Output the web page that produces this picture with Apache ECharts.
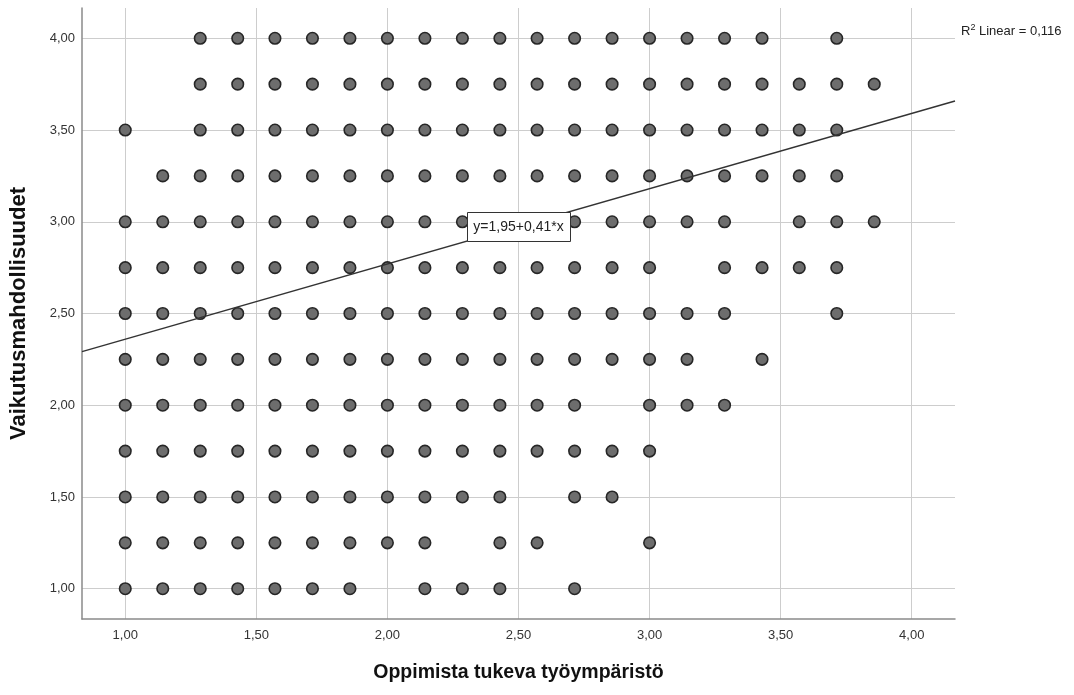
<!DOCTYPE html>
<html>
<head>
<meta charset="utf-8">
<script src="https://cdn.jsdelivr.net/npm/echarts@6/dist/echarts.min.js"></script>
<style>
  html, body { margin: 0; padding: 0; background: #ffffff; }
  #chart { width: 1074px; height: 695px; }
</style>
</head>
<body>
<div id="chart"></div>
<script>
// ---- Data ----
const xLevels = [1.000, 1.143, 1.286, 1.429, 1.571, 1.714, 1.857, 2.000, 2.143, 2.286, 2.429,
                 2.571, 2.714, 2.857, 3.000, 3.143, 3.286, 3.429, 3.571, 3.714, 3.857];
const yLevels = [4.00, 3.75, 3.50, 3.25, 3.00, 2.75, 2.50, 2.25, 2.00, 1.75, 1.50, 1.25, 1.00];
// indices into xLevels of the points present on each yLevels row
const rowMembers = [
  [2,3,4,5,6,7,8,9,10,11,12,13,14,15,16,17,19],
  [2,3,4,5,6,7,8,9,10,11,12,13,14,15,16,17,18,19,20],
  [0,2,3,4,5,6,7,8,9,10,11,12,13,14,15,16,17,18,19],
  [1,2,3,4,5,6,7,8,9,10,11,12,13,14,15,16,17,18,19],
  [0,1,2,3,4,5,6,7,8,9,10,11,12,13,14,15,16,18,19,20],
  [0,1,2,3,4,5,6,7,8,9,10,11,12,13,14,16,17,18,19],
  [0,1,2,3,4,5,6,7,8,9,10,11,12,13,14,15,16,19],
  [0,1,2,3,4,5,6,7,8,9,10,11,12,13,14,15,17],
  [0,1,2,3,4,5,6,7,8,9,10,11,12,14,15,16],
  [0,1,2,3,4,5,6,7,8,9,10,11,12,13,14],
  [0,1,2,3,4,5,6,7,8,9,10,12,13],
  [0,1,2,3,4,5,6,7,8,10,11,14],
  [0,1,2,3,4,5,6,8,9,10,12]
];
const xTicks = [1.00, 1.50, 2.00, 2.50, 3.00, 3.50, 4.00];
const yTicks = [1.00, 1.50, 2.00, 2.50, 3.00, 3.50, 4.00];
const regIntercept = 1.95;
const regSlope = 0.41;
const rSquared = 0.116;
const xTitle = 'Oppimista tukeva työympäristö';
const yTitle = 'Vaikutusmahdollisuudet';

// ---- Build ----
const AX_MIN = 0.835, AX_MAX = 4.165;
const FONT = 'Arial, "Liberation Sans", sans-serif';
const fmt = v => Number(v).toFixed(2).replace('.', ',');

const points = [];
rowMembers.forEach((idxs, r) => idxs.forEach(i => points.push([xLevels[i], yLevels[r]])));

const regLine = [AX_MIN, AX_MAX].map(x => [x, regIntercept + regSlope * x]);
const labelX = 2.5;
const eqText = 'y=' + fmt(regIntercept) + '+' + fmt(regSlope) + '*x';

const chart = echarts.init(document.getElementById('chart'), null, { renderer: 'canvas' });
chart.setOption({
  animation: false,
  backgroundColor: '#ffffff',
  textStyle: { fontFamily: FONT },
  grid: { left: 82, right: 119, top: 8, bottom: 76, containLabel: false },
  title: {
    left: 956, top: 18,
    text: '{r|R}{s|2}{r| Linear = ' + String(rSquared).replace('.', ',') + '}',
    textStyle: {
      fontWeight: 'normal',
      rich: {
        r: { fontSize: 13, color: '#222', fontWeight: 'normal', fontFamily: FONT, lineHeight: 16 },
        s: { fontSize: 9, color: '#222', fontWeight: 'normal', fontFamily: FONT, lineHeight: 16, verticalAlign: 'top', padding: [0, 0, 6, 0] }
      }
    }
  },
  xAxis: {
    type: 'value', min: AX_MIN, max: AX_MAX,
    name: xTitle, nameLocation: 'middle', nameGap: 44,
    nameTextStyle: { fontSize: 19.5, fontWeight: 'bold', color: '#111', fontFamily: FONT },
    axisLine: { show: true, onZero: false, lineStyle: { color: '#8a8a8a', width: 1.5 } },
    axisTick: { show: false, customValues: xTicks },
    axisLabel: { customValues: xTicks, formatter: fmt, fontSize: 13, color: '#333', margin: 10 },
    splitLine: { show: true, lineStyle: { color: '#cdcdcd', width: 1 } }
  },
  yAxis: {
    type: 'value', min: AX_MIN, max: AX_MAX,
    name: yTitle, nameLocation: 'middle', nameGap: 52, nameRotate: 90,
    nameTextStyle: { fontSize: 22, fontWeight: 'bold', color: '#111', fontFamily: FONT },
    axisLine: { show: true, onZero: false, lineStyle: { color: '#8a8a8a', width: 1.5 } },
    axisTick: { show: false, customValues: yTicks },
    axisLabel: { customValues: yTicks, formatter: fmt, fontSize: 13, color: '#333', margin: 7 },
    splitLine: { show: true, lineStyle: { color: '#cdcdcd', width: 1 } }
  },
  series: [
    {
      type: 'scatter', data: points, symbol: 'circle', symbolSize: 11.5, z: 2,
      itemStyle: { color: '#6d6d6d', borderColor: '#262626', borderWidth: 1.6, opacity: 1 }
    },
    {
      type: 'line', data: regLine, showSymbol: false, symbol: 'none', z: 3,
      lineStyle: { color: '#333333', width: 1.5 }, silent: true
    }
  ]
});

// equation box, centred on the regression line at labelX
const c = chart.convertToPixel({ gridIndex: 0 }, [labelX, regIntercept + regSlope * labelX]);
const boxW = 103, boxH = 29;
chart.setOption({
  graphic: {
    elements: [
      { type: 'rect', z: 50, zlevel: 0,
        shape: { x: Math.round(c[0] - boxW / 2) + 0.5, y: Math.round(c[1] - boxH / 2) + 0.5, width: boxW, height: boxH },
        style: { fill: '#ffffff', stroke: '#333333', lineWidth: 1 } },
      { type: 'text', z: 51, zlevel: 0,
        x: c[0], y: c[1] + 0.5,
        style: { text: eqText, fill: '#222222', fontSize: 14, fontFamily: FONT,
                 align: 'center', verticalAlign: 'middle' } }
    ]
  }
});
</script>
</body>
</html>
